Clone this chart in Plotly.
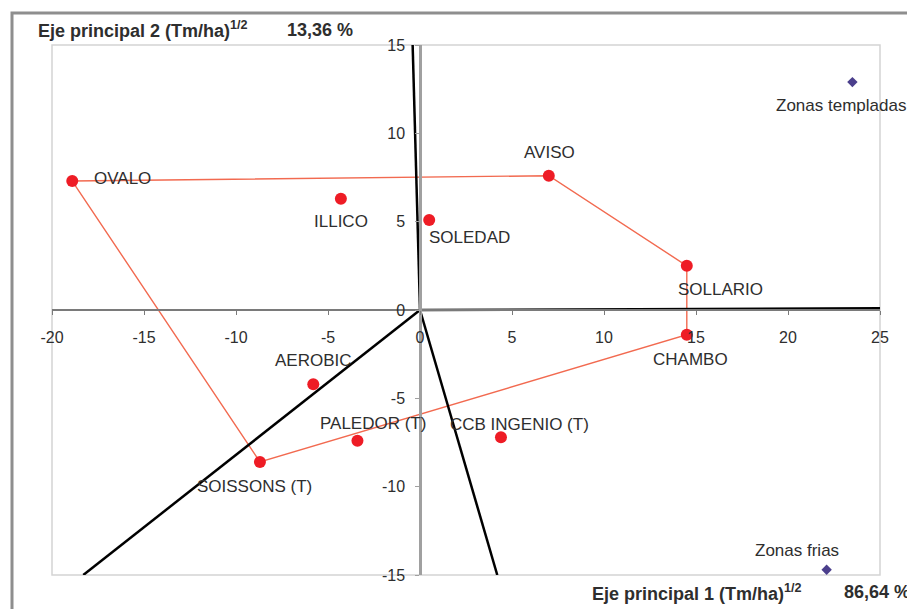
import plotly.graph_objects as go

# ---- data ----
genotypes = ["OVALO", "AVISO", "SOLLARIO", "CHAMBO", "ILLICO", "SOLEDAD",
             "AEROBIC", "PALEDOR (T)", "CCB INGENIO (T)", "SOISSONS (T)"]
gen_x = [-18.9, 7.0, 14.5, 14.5, -4.3, 0.5, -5.8, -3.4, 4.4, -8.7]
gen_y = [7.3, 7.6, 2.5, -1.4, 6.3, 5.1, -4.2, -7.4, -7.2, -8.6]
hull = ["OVALO", "AVISO", "SOLLARIO", "CHAMBO", "SOISSONS (T)", "OVALO"]

environments = ["Zonas templadas", "Zonas frias"]
env_x = [23.5, 22.1]
env_y = [12.9, -14.7]

sector_end_x = [25, -0.4, -18.3, 4.2]
sector_end_y = [0.1, 15, -15, -15]

x_ticks = [-20, -15, -10, -5, 0, 5, 10, 15, 20, 25]
y_ticks = [-15, -10, -5, 0, 5, 10, 15]

# ---- styles (label offsets in px: dx right, dy down) ----
label_offsets = {
    "OVALO": (50, -3), "AVISO": (1, -23), "SOLLARIO": (34, 24),
    "CHAMBO": (4, 25), "ILLICO": (0, 23), "SOLEDAD": (40, 18),
    "AEROBIC": (0, -24), "PALEDOR (T)": (16, -17),
    "CCB INGENIO (T)": (19, -13), "SOISSONS (T)": (-5, 25),
    "Zonas templadas": (-11, 23), "Zonas frias": (-30, -19),
}
FONT = "Liberation Sans, Arial, sans-serif"
TXT = "#2e2e2e"

# page body has an 8px default margin: figure is offset by (8, 8)
OFF = 8
W, H = 915 - OFF, 609 - OFF
PL, PT, PW, PH = 52, 45, 828, 530   # plot area in page pixels


def px_x(p):  # page pixel x -> paper x
    return (p - OFF) / W


def px_y(p):  # page pixel y -> paper y
    return 1 - (p - OFF) / H


x_dom = [px_x(PL), px_x(PL + PW)]
y_dom = [px_y(PT + PH), px_y(PT)]

fig = go.Figure()

# outer picture border (left + top), drawn on a full-page helper axis in page pixels
fig.add_trace(go.Scatter(x=[12, 12, 915], y=[620, 13, 13], mode="lines",
                         line=dict(color="#8E8E8E", width=3),
                         xaxis="x2", yaxis="y2", hoverinfo="skip",
                         showlegend=False, cliponaxis=False))

# convex hull polygon
idx = {g: i for i, g in enumerate(genotypes)}
fig.add_trace(go.Scatter(
    x=[gen_x[idx[g]] for g in hull], y=[gen_y[idx[g]] for g in hull],
    mode="lines", line=dict(color="#F26A50", width=1.4),
    hoverinfo="skip", showlegend=False))

# sector lines from origin
sx, sy = [], []
for ex, ey in zip(sector_end_x, sector_end_y):
    sx += [0, ex, None]
    sy += [0, ey, None]
fig.add_trace(go.Scatter(x=sx, y=sy, mode="lines",
                         line=dict(color="black", width=2.5),
                         hoverinfo="skip", showlegend=False))

# genotype markers
fig.add_trace(go.Scatter(x=gen_x, y=gen_y, mode="markers",
                         marker=dict(color="#EE1C25", size=12),
                         text=genotypes, showlegend=False))

# environment markers
fig.add_trace(go.Scatter(x=env_x, y=env_y, mode="markers",
                         marker=dict(color="#4B3F8C", size=8, symbol="diamond"),
                         text=environments, showlegend=False))

# labels
for name, x, y in list(zip(genotypes, gen_x, gen_y)) + list(zip(environments, env_x, env_y)):
    dx, dy = label_offsets[name]
    fig.add_annotation(x=x, y=y, text=name, showarrow=False,
                       xshift=dx, yshift=-dy,
                       font=dict(family=FONT, size=17, color=TXT))

# axis titles
tfont = dict(family=FONT, size=18, color=TXT)
fig.add_annotation(xref="paper", yref="paper", x=px_x(36), y=px_y(30),
                   xanchor="left", yanchor="middle", showarrow=False,
                   text="<b>Eje principal 2 (Tm/ha)<sup>1/2</sup></b>", font=tfont)
fig.add_annotation(xref="paper", yref="paper", x=px_x(285), y=px_y(30),
                   xanchor="left", yanchor="middle", showarrow=False,
                   text="<b>13,36 %</b>", font=tfont)
fig.add_annotation(xref="paper", yref="paper", x=px_x(590), y=px_y(592),
                   xanchor="left", yanchor="middle", showarrow=False,
                   text="<b>Eje principal 1 (Tm/ha)<sup>1/2</sup></b>", font=tfont)
fig.add_annotation(xref="paper", yref="paper", x=px_x(912), y=px_y(592),
                   xanchor="right", yanchor="middle", showarrow=False,
                   text="<b>86,64 %</b>", font=tfont)

# plot frame
fig.add_shape(type="rect", xref="x domain", yref="y domain", x0=0, x1=1, y0=0, y1=1,
              line=dict(color="#D4D4D4", width=1.5), layer="below")

fig.update_layout(
    width=W, height=H,
    margin=dict(l=0, r=0, t=0, b=0, autoexpand=False),
    paper_bgcolor="white", plot_bgcolor="rgba(0,0,0,0)",
    showlegend=False,
    xaxis=dict(domain=x_dom, range=[-20, 25], tickvals=x_ticks,
               ticktext=[str(v) for v in x_ticks],
               anchor="free", position=(y_dom[0] + y_dom[1]) / 2,
               showgrid=False, zeroline=False,
               showline=True, linecolor="#7a7a7a", linewidth=1.5,
               ticks="outside", ticklen=4, tickcolor="#7a7a7a",
               ticklabelstandoff=9,
               tickfont=dict(family=FONT, size=16, color=TXT)),
    yaxis=dict(domain=y_dom, range=[-15, 15], tickvals=y_ticks,
               ticktext=[str(v) for v in y_ticks],
               anchor="free", position=x_dom[0] + (x_dom[1] - x_dom[0]) * 20 / 45,
               showgrid=False, zeroline=False,
               showline=True, linecolor="#A0A0A0", linewidth=2.5,
               ticks="outside", ticklen=4, tickcolor="#A0A0A0",
               ticklabelstandoff=7,
               tickfont=dict(family=FONT, size=16, color=TXT)),
    xaxis2=dict(domain=[0, 1], range=[OFF, 915], anchor="y2", visible=False,
                fixedrange=True),
    yaxis2=dict(domain=[0, 1], range=[609, OFF], anchor="x2", visible=False,
                fixedrange=True),
)

fig.write_html("out.html")
